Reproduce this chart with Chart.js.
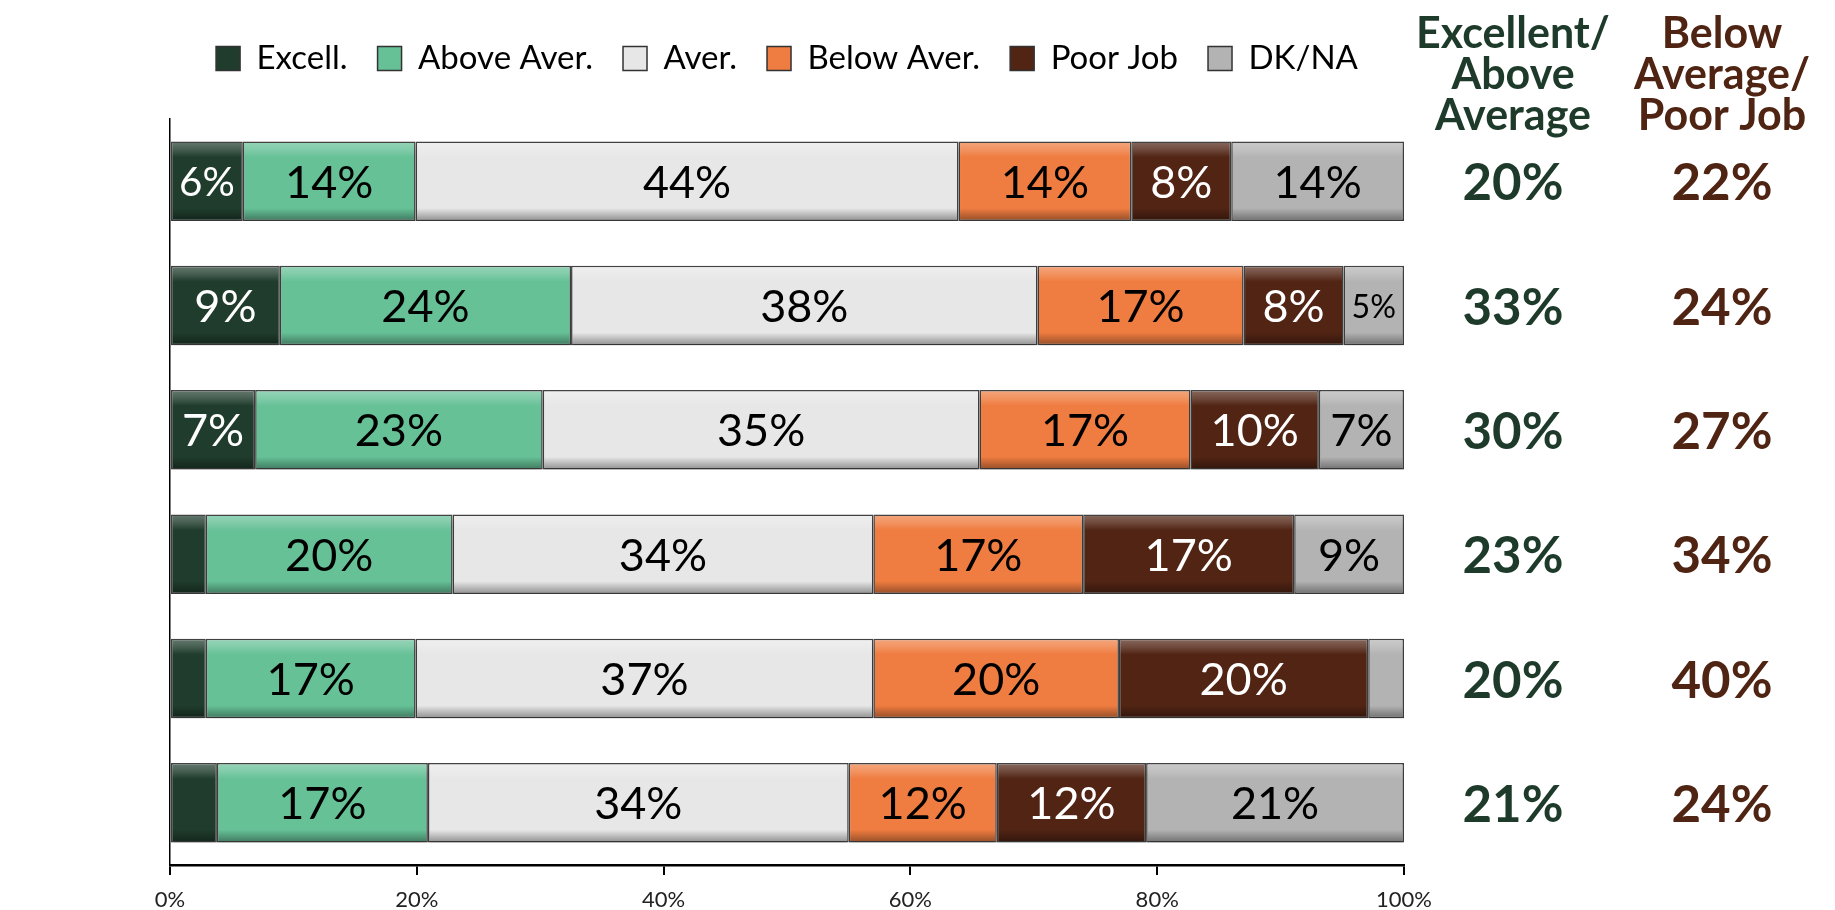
<!DOCTYPE html>
<html>
<head>
<meta charset="utf-8">
<script src="https://cdn.jsdelivr.net/npm/chart.js@4.4.1/dist/chart.umd.min.js"></script>
<style>
  html, body { margin: 0; padding: 0; background: #ffffff; }
  #wrap { width: 1835px; height: 910px; position: relative; }
</style>
</head>
<body>
<div id="wrap"><canvas id="chart"></canvas></div>
<script>
// ---------- data ----------
const years = ['2016', '2014', '2012', '2010', '2008', '2006'];
const seriesNames = ['Excell.', 'Above Aver.', 'Aver.', 'Below Aver.', 'Poor Job', 'DK/NA'];
const excellent    = [5.9, 8.9, 6.9, 2.9, 2.9, 3.8];
const aboveAverage = [14.0, 23.6, 23.3, 20.0, 17.0, 17.1];
const average      = [44.0, 37.8, 35.4, 34.1, 37.1, 34.1];
const belowAverage = [14.0, 16.7, 17.1, 17.0, 19.9, 12.0];
const poorJob      = [8.1, 8.1, 10.4, 17.1, 20.2, 12.1];
const dkNa         = [14.0, 4.9, 6.9, 8.9, 2.9, 20.9];
const xTickLabels  = ['0%', '20%', '40%', '60%', '80%', '100%'];
const excellentAboveTotals = ['20%', '33%', '30%', '23%', '20%', '21%'];
const belowPoorTotals      = ['22%', '24%', '27%', '34%', '40%', '24%'];
const headerLeft  = ['Excellent/', 'Above', 'Average'];
const headerRight = ['Below', 'Average/', 'Poor Job'];

// ---------- styles ----------
const seriesColors = ['#1f3c2c', '#66c197', '#e7e7e7', '#ef7c40', '#512414', '#b3b3b3'];
const labelColors  = ['#ffffff', '#000000', '#000000', '#000000', '#ffffff', '#000000'];
const BAR_PCT = 0.64;
const FONT = 'Lato, "Open Sans", sans-serif';

function shade(hex, amt) {
  const n = parseInt(hex.slice(1), 16);
  let r = n >> 16, g = (n >> 8) & 255, b = n & 255;
  const t = amt < 0 ? 0 : 255, p = Math.abs(amt);
  r = Math.round(r + (t - r) * p);
  g = Math.round(g + (t - g) * p);
  b = Math.round(b + (t - b) * p);
  return 'rgb(' + r + ',' + g + ',' + b + ')';
}

function bevel(base) {
  return function (ctx) {
    const chart = ctx.chart;
    const ys = chart.scales && chart.scales.y;
    if (!ys || ctx.type !== 'data' || !ys.ticks || !ys.ticks.length) return base;
    const c = ys.getPixelForValue(ctx.dataIndex);
    const h = (ys.height / ys.ticks.length) * BAR_PCT;
    const g = chart.ctx.createLinearGradient(0, c - h / 2, 0, c + h / 2);
    g.addColorStop(0, shade(base, 0.32));
    g.addColorStop(0.1, shade(base, 0.18));
    g.addColorStop(0.2, base);
    g.addColorStop(0.84, base);
    g.addColorStop(1, shade(base, -0.38));
    return g;
  };
}

const seriesData = [excellent, aboveAverage, average, belowAverage, poorJob, dkNa];

const datasets = seriesNames.map((name, i) => ({
  label: name,
  data: seriesData[i],
  xAxisID: 'x',
  yAxisID: 'y',
  backgroundColor: bevel(seriesColors[i]),
  borderColor: 'rgba(45,45,45,0.9)',
  borderWidth: 1.5,
  borderSkipped: false,
  barPercentage: BAR_PCT,
  categoryPercentage: 1.0
}));

// ---------- plugins ----------
const barDecor = {
  id: 'barDecor',
  beforeDatasetsDraw(chart) {
    const c = chart.ctx;
    c.save();
    c.shadowColor = 'rgba(0,0,0,0.22)';
    c.shadowBlur = 6;
    c.shadowOffsetY = 6;
  },
  afterDatasetsDraw(chart) {
    const ctx = chart.ctx;
    ctx.restore();
    ctx.save();
    ctx.textAlign = 'center';
    ctx.textBaseline = 'middle';
    chart.data.datasets.forEach((ds, di) => {
      const meta = chart.getDatasetMeta(di);
      meta.data.forEach((bar, i) => {
        const v = ds.data[i];
        if (v < 4) return;
        const txt = Math.round(v) + '%';
        const w = Math.abs(bar.x - bar.base);
        let size = 45;
        ctx.font = size + 'px ' + FONT;
        const tw = ctx.measureText(txt).width;
        if (tw > w - 16) size = size * (w - 16) / tw;
        ctx.font = size + 'px ' + FONT;
        ctx.fillStyle = labelColors[di];
        ctx.fillText(txt, (bar.x + bar.base) / 2, bar.y + 2);
      });
    });
    ctx.restore();
  }
};

const sideColumns = {
  id: 'sideColumns',
  afterDraw(chart) {
    const ctx = chart.ctx;
    const ys = chart.scales.y;
    const colL = 1513, colR = 1722;
    ctx.save();
    ctx.textAlign = 'center';
    ctx.textBaseline = 'alphabetic';
    ctx.font = 'bold 43px ' + FONT;
    const baselines = [48, 89, 130];
    headerLeft.forEach((t, k) => { ctx.fillStyle = '#1e3a2a'; ctx.fillText(t, colL, baselines[k]); });
    headerRight.forEach((t, k) => { ctx.fillStyle = '#4f2413'; ctx.fillText(t, colR, baselines[k]); });
    ctx.font = 'bold 51px ' + FONT;
    years.forEach((y, i) => {
      const cy = ys.getPixelForValue(i);
      ctx.fillStyle = '#1e3a2a';
      ctx.fillText(excellentAboveTotals[i], colL, cy + 19);
      ctx.fillStyle = '#4f2413';
      ctx.fillText(belowPoorTotals[i], colR, cy + 19);
    });
    ctx.restore();
  }
};

function build() {
  new Chart(document.getElementById('chart'), {
    type: 'bar',
    data: { labels: years, datasets: datasets },
    options: {
      indexAxis: 'y',
      responsive: true,
      maintainAspectRatio: false,
      animation: false,
      layout: { padding: { left: 170, right: 431, top: 12, bottom: 0 } },
      plugins: {
        tooltip: { enabled: false },
        legend: {
          display: true,
          position: 'top',
          align: 'center',
          labels: {
            font: { family: FONT, size: 33 },
            color: '#000',
            boxWidth: 24,
            boxHeight: 24,
            padding: 30,
            generateLabels(chart) {
              return chart.data.datasets.map((ds, i) => ({
                text: ds.label,
                fillStyle: seriesColors[i],
                strokeStyle: '#333333',
                lineWidth: 1.5,
                fontColor: '#000',
                hidden: false,
                datasetIndex: i
              }));
            }
          }
        }
      },
      scales: {
        x: {
          type: 'linear',
          axis: 'x',
          position: 'bottom',
          stacked: true,
          min: 0,
          max: 100,
          ticks: {
            stepSize: 20,
            callback: (v) => xTickLabels[Math.round(v / 20)],
            font: { family: FONT, size: 22 },
            color: '#222',
            padding: 12,
            maxRotation: 0
          },
          grid: { display: true, drawOnChartArea: false, drawTicks: true, tickLength: 10, color: '#000', lineWidth: 2 },
          border: { display: true, color: '#000', width: 2.5 },
          afterFit(scale) {
            scale.height = 45;
            scale.paddingTop = 0;
            scale.paddingBottom = 0;
          }
        },
        xTop: {
          type: 'linear',
          axis: 'x',
          position: 'top',
          display: true,
          grid: { display: false, drawTicks: false },
          ticks: { display: false },
          border: { display: false },
          afterFit(scale) { scale.height = 34; }
        },
        y: {
          type: 'category',
          axis: 'y',
          stacked: true,
          ticks: { font: { family: FONT, size: 44 }, color: '#000', padding: 53 },
          grid: { display: false, drawTicks: false },
          border: { display: true, color: '#000', width: 1.5 },
          afterFit(scale) {
            scale.width = 0;
            scale.paddingTop = 0;
            scale.paddingBottom = 0;
          }
        }
      }
    },
    plugins: [barDecor, sideColumns]
  });
}

if (document.fonts && document.fonts.load) {
  Promise.all([
    document.fonts.load('33px Lato'),
    document.fonts.load('bold 43px Lato')
  ]).then(build, build);
} else {
  build();
}
</script>
</body>
</html>
